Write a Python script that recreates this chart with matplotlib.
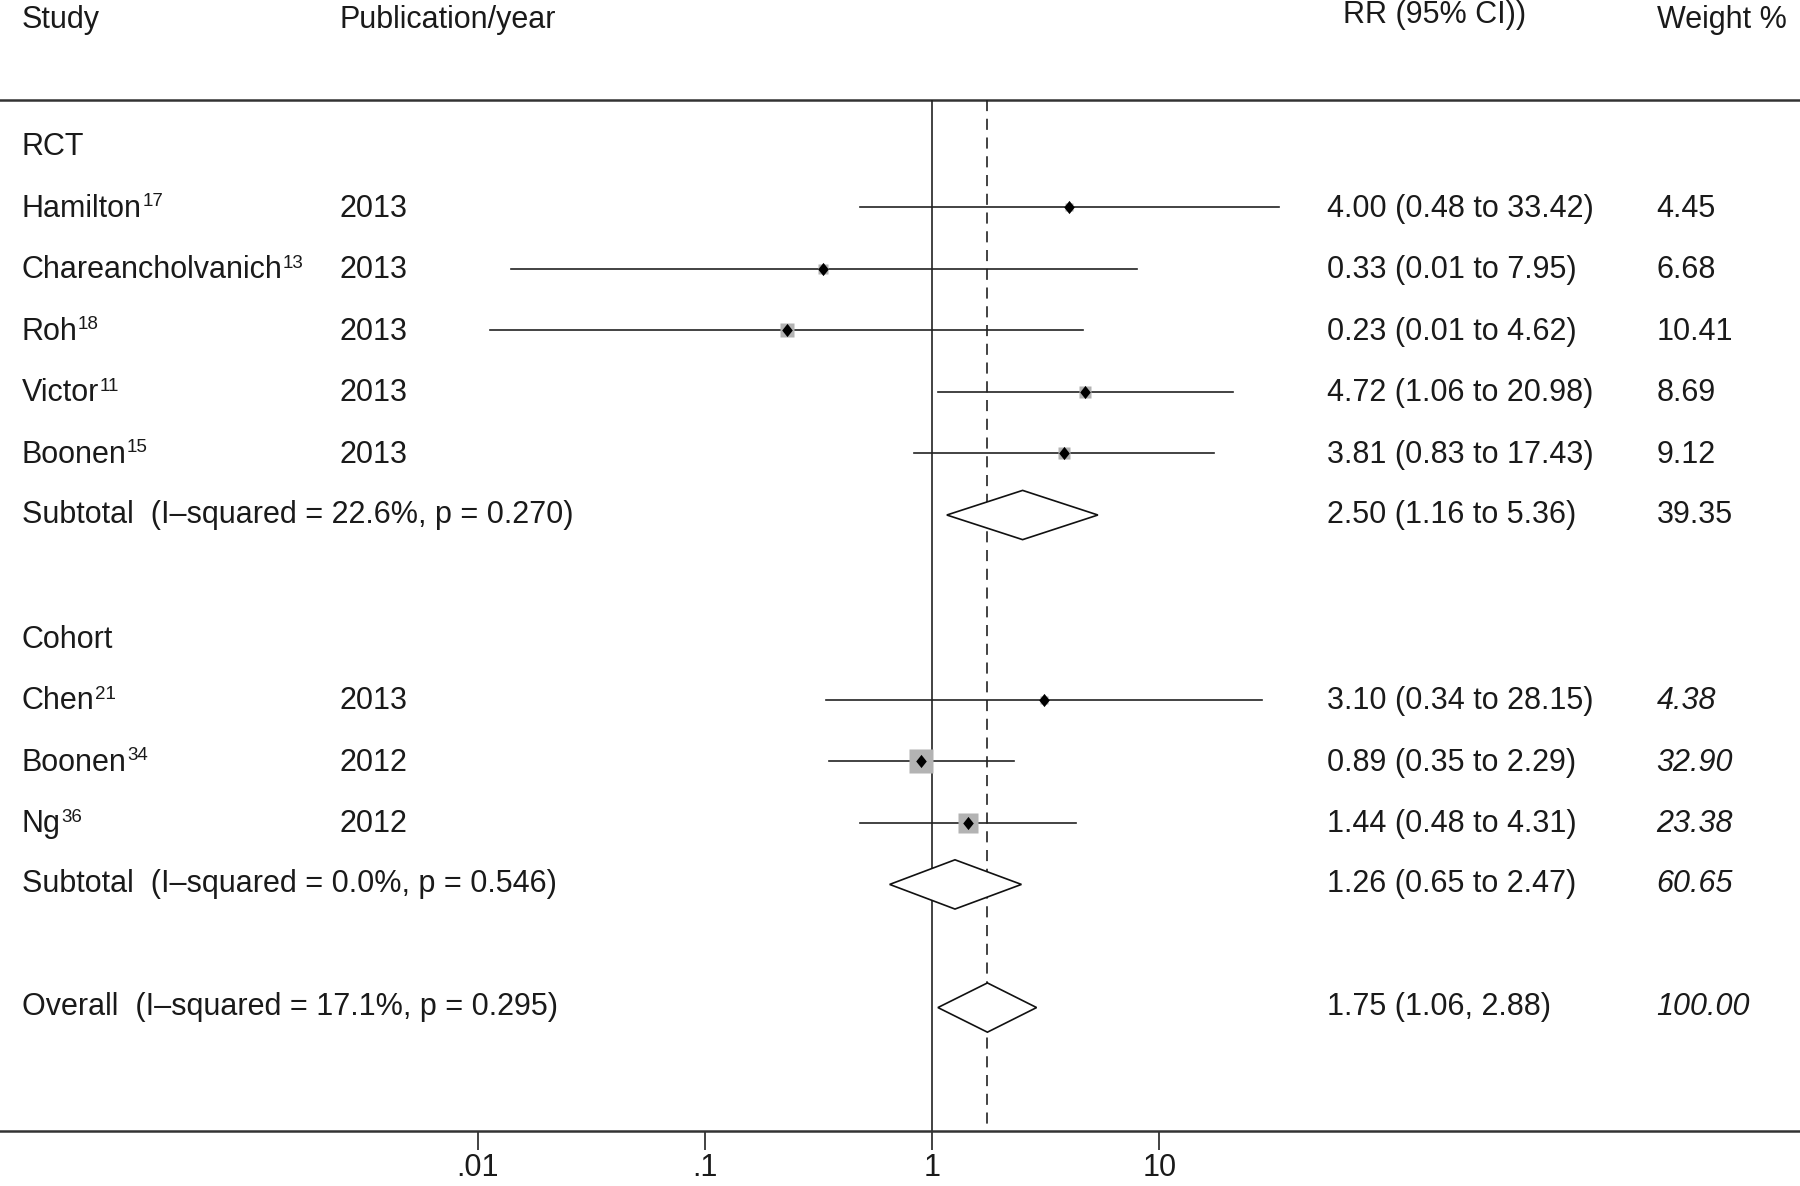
import matplotlib
matplotlib.use("Agg")
import matplotlib.pyplot as plt
from matplotlib.path import Path
import numpy as np

plt.rcParams['font.family'] = ['Liberation Sans', 'DejaVu Sans']
plt.rcParams['lines.scale_dashes'] = False

# ---------------- data ----------------
study_names = ["Hamilton", "Chareancholvanich", "Roh", "Victor", "Boonen",
               "Chen", "Boonen", "Ng"]
study_refs = ["17", "13", "18", "11", "15", "21", "34", "36"]
study_years = ["2013", "2013", "2013", "2013", "2013", "2013", "2012", "2012"]
study_rows = [1, 2, 3, 4, 5, 9, 10, 11]
rr_est = [4.00, 0.33, 0.23, 4.72, 3.81, 3.10, 0.89, 1.44]
rr_lo = [0.48, 0.014, 0.0114, 1.06, 0.83, 0.34, 0.35, 0.48]
rr_hi = [33.42, 7.95, 4.62, 20.98, 17.43, 28.15, 2.29, 4.31]
weights = [4.45, 6.68, 10.41, 8.69, 9.12, 4.38, 32.90, 23.38]
study_ci_text = ["4.00 (0.48 to 33.42)", "0.33 (0.01 to 7.95)", "0.23 (0.01 to 4.62)",
                 "4.72 (1.06 to 20.98)", "3.81 (0.83 to 17.43)",
                 "3.10 (0.34 to 28.15)", "0.89 (0.35 to 2.29)", "1.44 (0.48 to 4.31)"]
study_w_text = ["4.45", "6.68", "10.41", "8.69", "9.12", "4.38", "32.90", "23.38"]
study_w_italic = [False, False, False, False, False, True, True, True]

group_labels = ["RCT", "Cohort"]
group_rows = [0, 8]

pooled_labels = ["Subtotal  (I\u2013squared = 22.6%, p = 0.270)",
                 "Subtotal  (I\u2013squared = 0.0%, p = 0.546)",
                 "Overall  (I\u2013squared = 17.1%, p = 0.295)"]
pooled_rows = [6, 12, 14]
pooled_est = [2.50, 1.26, 1.75]
pooled_lo = [1.16, 0.65, 1.06]
pooled_hi = [5.36, 2.47, 2.88]
pooled_ci_text = ["2.50 (1.16 to 5.36)", "1.26 (0.65 to 2.47)", "1.75 (1.06, 2.88)"]
pooled_w_text = ["39.35", "60.65", "100.00"]
pooled_w_italic = [False, True, True]

overall_rr = 1.75
tick_values = [0.01, 0.1, 1, 10]
tick_labels = [".01", ".1", "1", "10"]

headers = ["Study", "Publication/year", "RR (95% CI))", "Weight %"]

# ---------------- layout ----------------
W, H, DPI = 1800, 1186, 100
fig = plt.figure(figsize=(W / DPI, H / DPI), dpi=DPI)
ax = fig.add_axes([0, 55 / H, 1, 1 - 55 / H])
ax.set_xscale('log')
ax.set_xlim(10 ** -4.101, 10 ** 3.818)
ax.set_ylim(16.04, -2.33)

FS = 22
SUP_FS = 13.5
TXT = '#1a1a1a'
DY_MARK = 0.035   # small vertical nudge for marks
DY_TXT = 0.06     # small vertical nudge for text
x_study, x_year, x_rr, x_rr_head, x_w = 0.0121, 0.1888, 0.7372, 0.7462, 0.9203
trans = ax.get_yaxis_transform()  # x in axes fraction, y in data

# header
ax.text(x_study, -2.0, headers[0], transform=trans, fontsize=FS, va='center', color=TXT)
ax.text(x_year, -2.0, headers[1], transform=trans, fontsize=FS, va='center', color=TXT)
ax.text(x_rr_head, -2.08, headers[2], transform=trans, fontsize=FS, va='center', color=TXT)
ax.text(x_w, -2.0, headers[3], transform=trans, fontsize=FS, va='center', color=TXT)

# top rule
ax.axhline(-0.707, color='#333333', lw=1.8)

# reference lines
ax.vlines(1, -0.707, 16.04, color='#222222', lw=1.2, clip_on=False)
ax.vlines(overall_rr, -0.707, 16.04, color='#222222', lw=1.2, linestyles=(0, (8, 5.5)))

# group labels
for lab, r in zip(group_labels, group_rows):
    ax.text(x_study, r + DY_TXT, lab, transform=trans, fontsize=FS, va='center', color=TXT)

# studies
diamond = Path([(0, 1), (0.8, 0), (0, -1), (-0.8, 0), (0, 1)],
               [Path.MOVETO, Path.LINETO, Path.LINETO, Path.LINETO, Path.CLOSEPOLY])
for i, r in enumerate(study_rows):
    ym = r + DY_MARK
    yt = r + DY_TXT
    ax.plot([rr_lo[i], rr_hi[i]], [ym, ym], color='#222222', lw=1.2, zorder=2)
    side_pt = 4.2 * np.sqrt(weights[i]) * 0.72
    ax.plot([rr_est[i]], [ym], marker='s', ms=side_pt, color='#b3b3b3', mec='none', zorder=3)
    ax.plot([rr_est[i]], [ym], marker=diamond, ms=9.5, color='black', mec='none', zorder=4)
    t = ax.text(x_study, yt, study_names[i], transform=trans, fontsize=FS, va='center', color=TXT)
    ax.annotate(study_refs[i], xy=(1.0, 1.0), xycoords=t, xytext=(0.3, 0.5),
                textcoords='offset points', fontsize=SUP_FS, va='top', ha='left', color=TXT)
    ax.text(x_year, yt, study_years[i], transform=trans, fontsize=FS, va='center', color=TXT)
    ax.text(x_rr, yt, study_ci_text[i], transform=trans, fontsize=FS, va='center', color=TXT)
    ax.text(x_w, yt, study_w_text[i], transform=trans, fontsize=FS, va='center', color=TXT,
            style='italic' if study_w_italic[i] else 'normal')

# pooled diamonds
hh = 0.4
for i, r in enumerate(pooled_rows):
    ym = r + DY_MARK
    yt = r + DY_TXT - 0.03
    xs = [pooled_lo[i], pooled_est[i], pooled_hi[i], pooled_est[i], pooled_lo[i]]
    ys = [ym, ym - hh, ym, ym + hh, ym]
    ax.fill(xs, ys, facecolor='white', edgecolor='#111111', lw=1.2, zorder=5)
    ax.text(x_study, yt, pooled_labels[i], transform=trans, fontsize=FS, va='center', color=TXT)
    ax.text(x_rr, yt, pooled_ci_text[i], transform=trans, fontsize=FS, va='center', color=TXT)
    ax.text(x_w, yt, pooled_w_text[i], transform=trans, fontsize=FS, va='center', color=TXT,
            style='italic' if pooled_w_italic[i] else 'normal')

# axes styling
for s in ['top', 'left', 'right']:
    ax.spines[s].set_visible(False)
ax.spines['bottom'].set_color('#333333')
ax.spines['bottom'].set_linewidth(1.8)
ax.set_yticks([])
ax.set_xticks(tick_values)
ax.set_xticklabels(tick_labels)
ax.xaxis.set_minor_locator(matplotlib.ticker.NullLocator())
ax.tick_params(axis='x', direction='out', length=14, width=1.2, pad=2,
               labelsize=FS, colors='#222222', labelcolor=TXT)

fig.savefig("out.png", dpi=DPI)
